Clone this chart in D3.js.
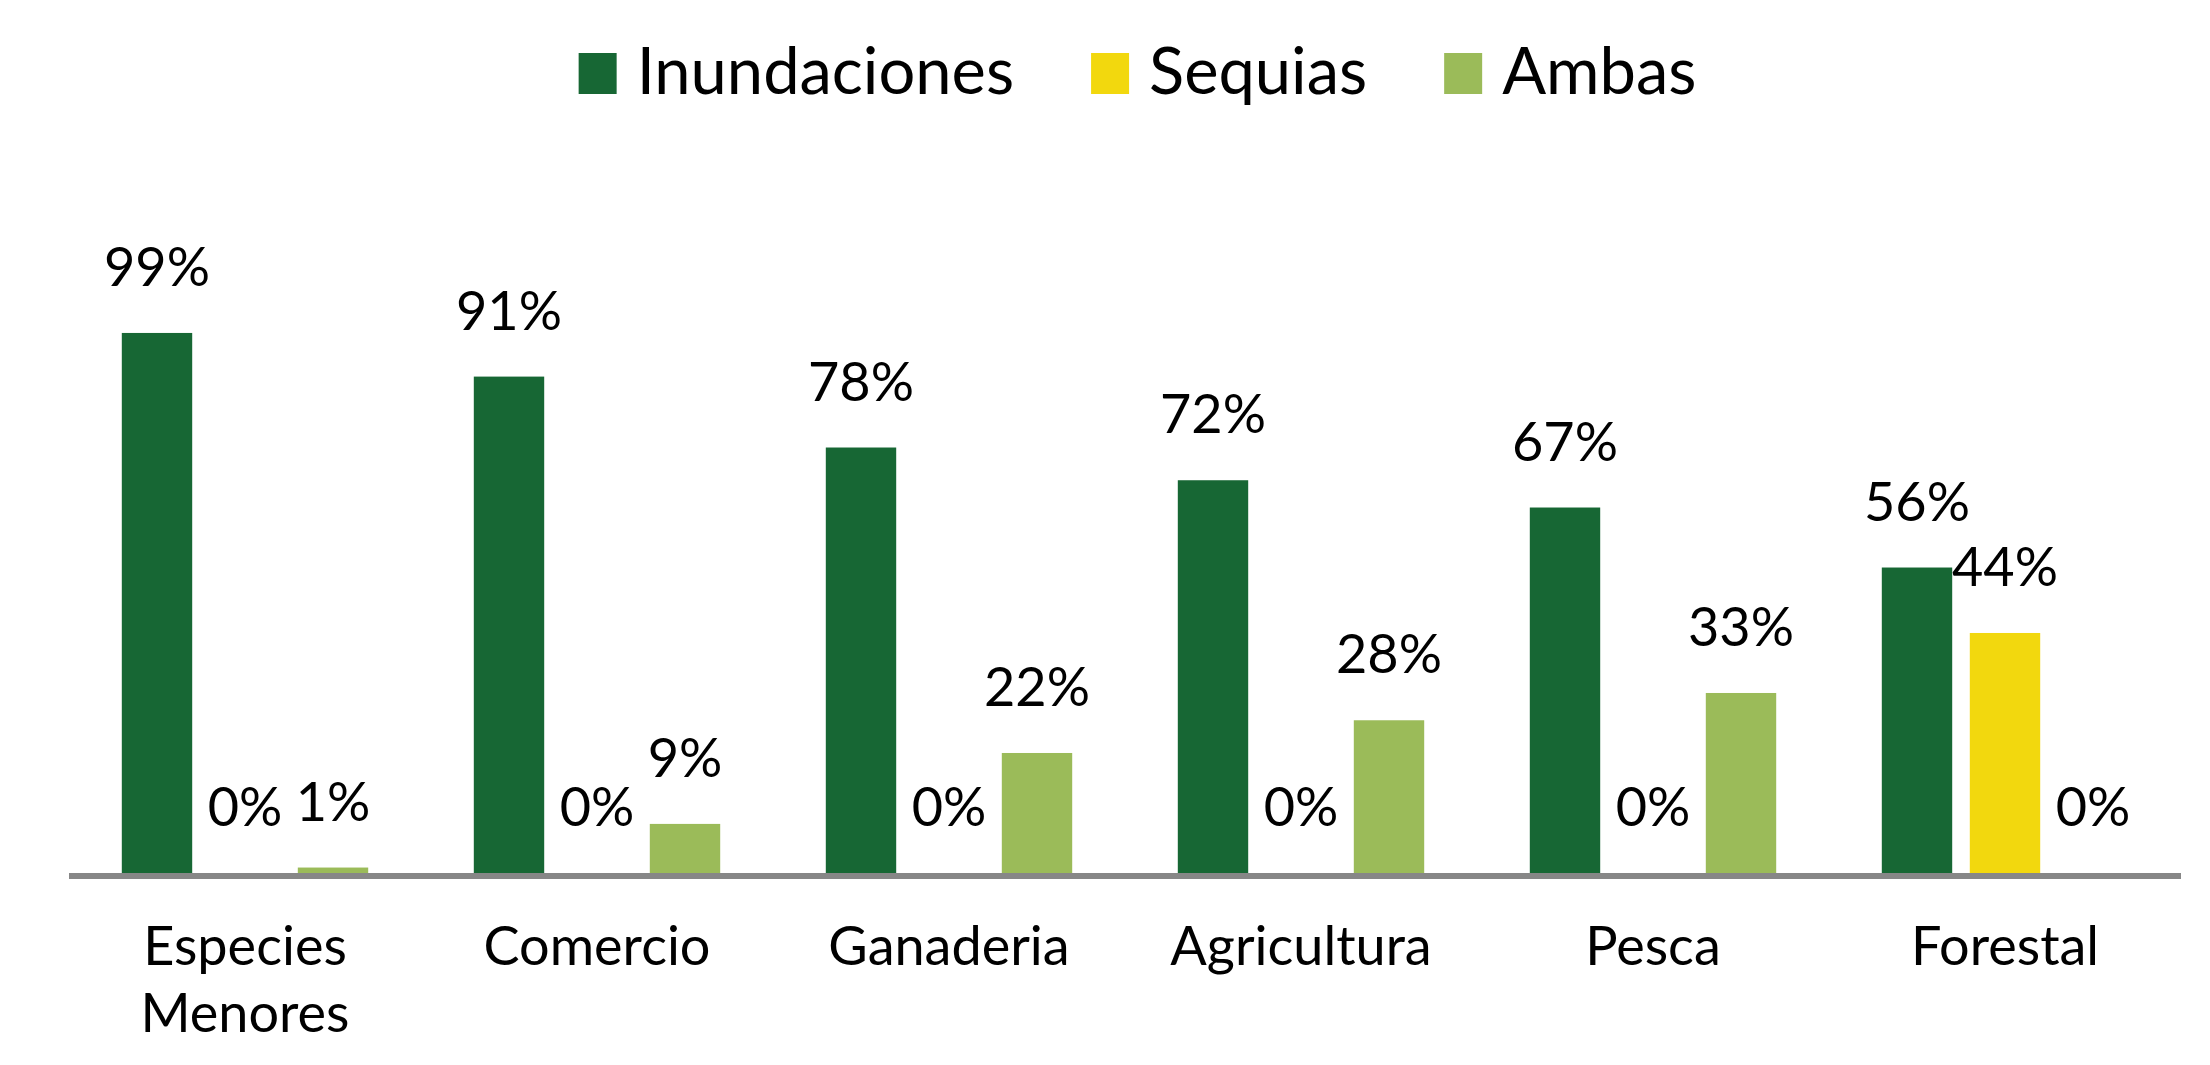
<!DOCTYPE html>
<html lang="es">
<head>
  <meta charset="utf-8" />
  <style>
    body { margin: 0; background: #fff; }
    text { font-family: Lato, "Open Sans", sans-serif; fill: #000; }
  </style>
</head>
<body>
<div id="container"></div>
<script src="https://cdn.jsdelivr.net/npm/d3@7"></script>
<script>

const width = 2210;
const height = 1065;

// data (percent)
const categories = [['Especies', 'Menores'], ['Comercio'], ['Ganaderia'], ['Agricultura'], ['Pesca'], ['Forestal']];
const series = ['Inundaciones', 'Sequias', 'Ambas'];
const colors = ['#176734', '#f2d80e', '#9bbb59'];
const inundaciones = [99, 91, 78, 72, 67, 56];
const sequias = [0, 0, 0, 0, 0, 44];
const ambas = [1, 9, 22, 28, 33, 0];

const values = [inundaciones, sequias, ambas];

const svg = d3.select('#container')
  .append('svg')
  .attr('width', width)
  .attr('height', height);

const x0 = d3.scaleBand()
  .domain(d3.range(categories.length))
  .range([69, 2181])
  .paddingInner(0.3)
  .paddingOuter(0.15);

const x1 = d3.scaleBand()
  .domain(d3.range(series.length))
  .range([0, x0.bandwidth()])
  .paddingInner(0.2);

const y = d3.scaleLinear()
  .domain([0, 100])
  .range([873, 327.5]);

// bars + labels per series
series.forEach((s, si) => {
  const g = svg.append('g');
  g.selectAll('rect')
    .data(values[si])
    .enter()
    .append('rect')
    .attr('x', (d, i) => x0(i) + x1(si))
    .attr('y', d => y(d))
    .attr('width', x1.bandwidth())
    .attr('height', d => y(0) - y(d))
    .attr('fill', colors[si]);

  g.selectAll('text')
    .data(values[si])
    .enter()
    .append('text')
    .attr('x', (d, i) => x0(i) + x1(si) + x1.bandwidth() / 2)
    .attr('y', d => y(d) - 47)
    .attr('text-anchor', 'middle')
    .attr('font-size', 54)
    .text(d => d + '%');
});

// axis line
svg.append('line')
  .attr('x1', 69)
  .attr('x2', 2181)
  .attr('y1', y(0) + 3)
  .attr('y2', y(0) + 3)
  .attr('stroke', '#878787')
  .attr('stroke-width', 6);

// category labels
const cat = svg.selectAll('.cat')
  .data(categories)
  .enter()
  .append('text')
  .attr('class', 'cat')
  .attr('text-anchor', 'middle')
  .attr('font-size', 54)
  .attr('x', (d, i) => x0(i) + x0.bandwidth() / 2)
  .attr('y', 965);

cat.selectAll('tspan')
  .data(d => d)
  .enter()
  .append('tspan')
  .attr('x', function () { return d3.select(this.parentNode).attr('x'); })
  .attr('dy', (d, i) => i === 0 ? 0 : 67)
  .text(d => d);

// legend
const legend = svg.append('g');
let lx = 0;
series.forEach((s, i) => {
  const item = legend.append('g').attr('transform', `translate(${lx},0)`);
  item.append('rect')
    .attr('x', 0)
    .attr('y', 53)
    .attr('width', 38)
    .attr('height', 41)
    .attr('fill', colors[i]);
  const t = item.append('text')
    .attr('x', 58)
    .attr('y', 94)
    .attr('font-size', 65)
    .text(s);
  lx += 58 + t.node().getComputedTextLength() + 77;
});
const lw = lx - 77;
legend.attr('transform', `translate(${1137.5 - lw / 2},0)`);

</script>
</body>
</html>
